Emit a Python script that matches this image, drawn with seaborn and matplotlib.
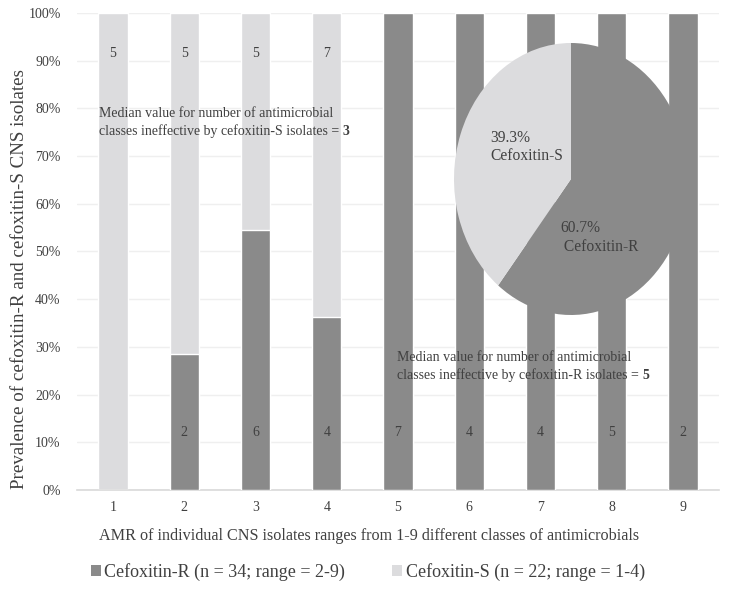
import matplotlib
matplotlib.use("Agg")
import matplotlib.pyplot as plt
from matplotlib.patches import Patch
import seaborn as sns
import pandas as pd
import numpy as np

# ---- data ----
classes = ["1", "2", "3", "4", "5", "6", "7", "8", "9"]
r_counts = [0, 2, 6, 4, 7, 4, 4, 5, 2]
s_counts = [5, 5, 5, 7, 0, 0, 0, 0, 0]
pie_labels = ["39.3%\nCefoxitin-S", "60.7%\n Cefoxitin-R"]
pie_values = [60.7, 39.3]  # R, S
legend_labels = ["Cefoxitin-R (n = 34; range = 2-9)", "Cefoxitin-S (n = 22; range = 1-4)"]
yticks = [0, 10, 20, 30, 40, 50, 60, 70, 80, 90, 100]

DARK = "#8a8a8a"
LIGHT = "#dcdcde"
TXT = "#404040"

sns.set_theme(style="white")
plt.rcParams["font.family"] = ["Liberation Serif", "DejaVu Serif"]

r = np.array(r_counts, dtype=float)
s = np.array(s_counts, dtype=float)
tot = r + s
df = pd.DataFrame({"cls": classes,
                   "r_pct": r / tot * 100,
                   "total": (r + s) / tot * 100})

fig = plt.figure(figsize=(7.31, 5.90), dpi=100)
ax = fig.add_axes([77.4 / 731, 1 - 490 / 590, 641.2 / 731, 477 / 590])

sns.barplot(data=df, x="cls", y="total", color=LIGHT, width=0.41,
            saturation=1, ax=ax, zorder=2)
sns.barplot(data=df, x="cls", y="r_pct", color=DARK, width=0.41,
            saturation=1, ax=ax, zorder=3)

ax.set_ylim(0, 100)
ax.set_xlim(-0.5, len(classes) - 0.5)
ax.set_yticks(yticks)
ax.set_yticklabels([f"{v}%" for v in yticks])
ax.yaxis.grid(True, color="#efefef", linewidth=1, zorder=0)
ax.set_axisbelow(True)
for sp in ["top", "right", "left"]:
    ax.spines[sp].set_visible(False)
ax.spines["bottom"].set_color("#d9d9d9")
ax.spines["bottom"].set_linewidth(1.2)
ax.tick_params(axis="both", length=0, labelsize=10, colors=TXT, pad=8)
ax.tick_params(axis="y", pad=12)
ax.set_xlabel("AMR of individual CNS isolates ranges from 1-9 different classes of antimicrobials",
              fontsize=11.6, color=TXT)
ax.xaxis.set_label_coords((369.5 - 77.4) / 641.2, -(528 - 490) / 477)
ax.set_ylabel("Prevalence of cefoxitin-R and cefoxitin-S CNS isolates",
              fontsize=13.7, color=TXT)
ax.yaxis.set_label_coords((28 - 77.4) / 641.2, (490 - 279) / 477)

# count labels
for i, (rc, sc) in enumerate(zip(r_counts, s_counts)):
    if sc > 0:
        ax.text(i, 91.5, str(sc), ha="center", va="center", fontsize=10, color=TXT, zorder=5)
    if rc > 0:
        ax.text(i, 12, str(rc), ha="center", va="center", fontsize=10, color=TXT, zorder=5)

# annotations with bold value
def median_note(x, y, group, val):
    t = ax.text(x, y, "Median value for number of antimicrobial\n"
                f"classes ineffective by cefoxitin-{group} isolates = ",
                transform=ax.transAxes, ha="left", va="top", fontsize=10,
                color=TXT, linespacing=1.4, zorder=6)
    ax.annotate(val, xy=(1, 0), xycoords=t, ha="left", va="bottom",
                fontsize=10, fontweight="bold", color=TXT, zorder=6)

median_note(0.0337, 0.803, "S", "3")

# pie inset
pax = fig.add_axes([454 / 731, 1 - 315 / 590, 234 / 731, 272 / 590])
pax.pie(pie_values, colors=[DARK, LIGHT], startangle=90, counterclock=False,
        wedgeprops=dict(linewidth=0))
pax.set_aspect("auto")
pax.set_xlim(-1, 1)
pax.set_ylim(-1, 1)
pax.axis("off")
pax.text(-0.69, 0.235, pie_labels[0], ha="left", va="center", fontsize=11.2,
         color=TXT, linespacing=1.2)
pax.text(-0.094, -0.43, pie_labels[1], ha="left", va="center", fontsize=11.2,
         color=TXT, linespacing=1.2)

median_note(0.498, 0.2915, "R", "5")

# legend
handles = [Patch(facecolor=DARK, edgecolor="none"), Patch(facecolor=LIGHT, edgecolor="none")]
fig.legend(handles, legend_labels, loc="center", bbox_to_anchor=(0.503, 1 - 572 / 590),
           ncol=2, frameon=False, fontsize=13, handlelength=0.55, handleheight=0.55,
           handletextpad=0.2, columnspacing=2.6, labelcolor=TXT)

fig.savefig("out.png", dpi=100)
